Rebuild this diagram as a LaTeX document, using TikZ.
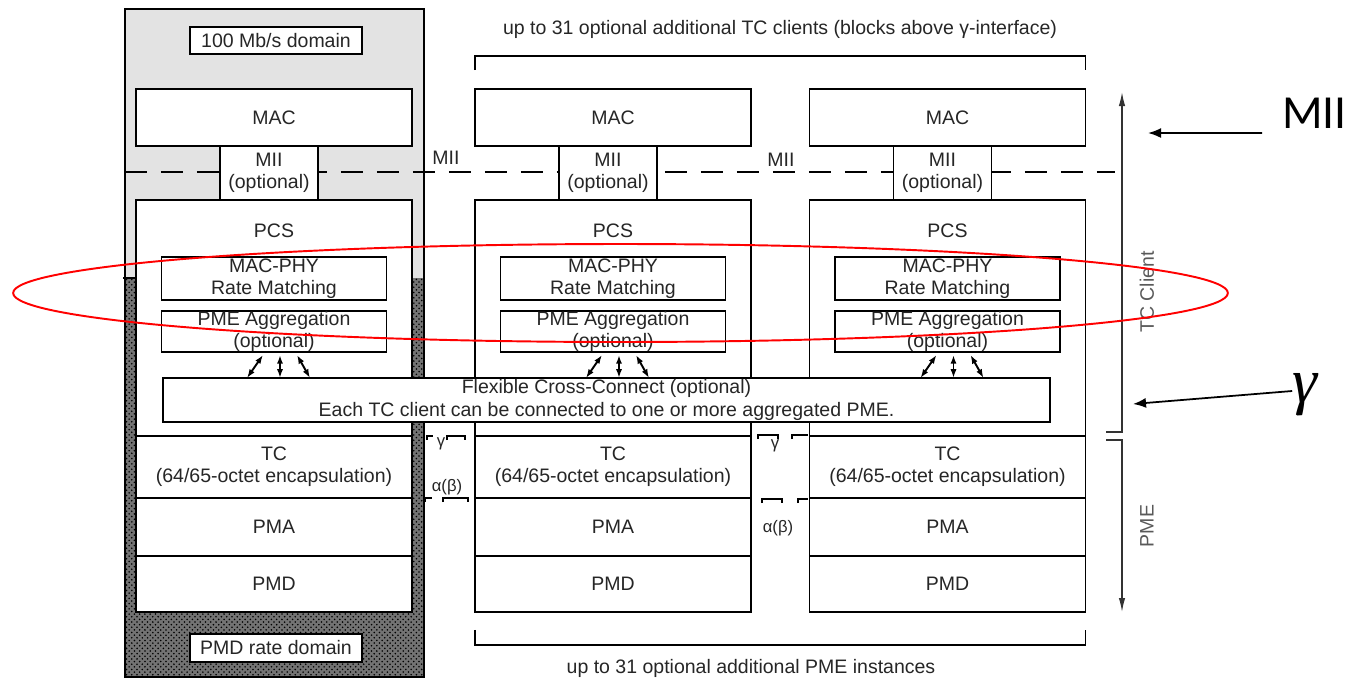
\documentclass[tikz,border=0pt]{standalone}
\usepackage{fontspec}
\setmainfont{Liberation Sans}
\newfontfamily\notefont{Carlito}
\newfontfamily\gamfont{Liberation Serif}
\usepackage{tikz}
\usetikzlibrary{positioning,arrows.meta,patterns}

\begin{document}
\begin{tikzpicture}[
    x=0.02cm, y=-0.02cm,
    font=\fontsize{11.1}{12.8}\selectfont,
    stackbox/.style={rectangle, draw, fill=white, line width=0.8pt, minimum width=5.52cm, inner sep=0pt, outer sep=0pt, align=center, text=black!85},
    innerbox/.style={stackbox, minimum width=4.5cm},
    xarrow/.style={{Latex[length=5pt,width=3.5pt]}-{Latex[length=5pt,width=3.5pt]}, line width=1.1pt},
    ifline/.style={line width=0.7pt},
    smalltxt/.style={font=\fontsize{9.5}{11}\selectfont, text=black!85, inner sep=1pt},
    notearrow/.style={-{Latex[length=0.26cm,width=0.2cm]}, line width=1pt},
    dimarrow/.style={-{Latex[length=0.28cm,width=0.13cm]}, line width=0.8pt, black!80}
]
\useasboundingbox (0,0) rectangle (1347,680);

% left column: 100 Mb/s domain and PMD rate domain
\fill[black!11] (125,9) rectangle (424,278);
\fill[black!55] (125,278) rectangle (424,677);
\fill[pattern=crosshatch dots, pattern color=black] (125,278) rectangle (424,677);
\draw[line width=0.8pt] (125,9) rectangle (424,677);
\draw[line width=0.8pt] (123,278) -- (136,278);

% MII interface line
\draw[line width=0.8pt, dash pattern=on 0.44cm off 0.28cm] (125,172) -- (1115,172);

\node[stackbox, minimum width=3.44cm, minimum height=0.54cm] (fastdom) at (276,40.5) {100 Mb/s domain};
\node[stackbox, minimum width=3.44cm, minimum height=0.56cm] (ratedom) at (276,648) {PMD rate domain};

% column 1
\node[stackbox, minimum height=1.14cm] (mac1) at (274,117.5) {MAC};
\node[stackbox, minimum width=1.96cm, minimum height=1.08cm, below=0pt of mac1, xshift=-0.1cm] (mii1) {MII\\(optional)};
\node[stackbox, minimum height=4.72cm, below=0pt of mii1, xshift=0.1cm] (pcs1) {};
\node[text=black!85] (pcsl1) at ([yshift=-0.62cm]pcs1.north) {PCS};
\node[innerbox, minimum height=0.86cm, below=1.14cm of pcs1.north] (mph1) {MAC-PHY\\Rate Matching};
\node[innerbox, minimum height=0.82cm, below=0.22cm of mph1] (pme1) {PME Aggregation\\(optional)};
\node[stackbox, minimum height=1.24cm, below=0pt of pcs1] (tc1) {TC\\(64/65-octet encapsulation)};
\node[stackbox, minimum height=1.16cm, below=0pt of tc1] (pma1) {PMA};
\node[stackbox, minimum height=1.12cm, below=0pt of pma1] (pmd1) {PMD};

% column 2
\node[stackbox, minimum height=1.14cm] (mac2) at (613,117.5) {MAC};
\node[stackbox, minimum width=1.96cm, minimum height=1.08cm, below=0pt of mac2, xshift=-0.1cm] (mii2) {MII\\(optional)};
\node[stackbox, minimum height=4.72cm, below=0pt of mii2, xshift=0.1cm] (pcs2) {};
\node[text=black!85] (pcsl2) at ([yshift=-0.62cm]pcs2.north) {PCS};
\node[innerbox, minimum height=0.86cm, below=1.14cm of pcs2.north] (mph2) {MAC-PHY\\Rate Matching};
\node[innerbox, minimum height=0.82cm, below=0.22cm of mph2] (pme2) {PME Aggregation\\(optional)};
\node[stackbox, minimum height=1.24cm, below=0pt of pcs2] (tc2) {TC\\(64/65-octet encapsulation)};
\node[stackbox, minimum height=1.16cm, below=0pt of tc2] (pma2) {PMA};
\node[stackbox, minimum height=1.12cm, below=0pt of pma2] (pmd2) {PMD};

% column 3
\node[stackbox, minimum height=1.14cm] (mac3) at (947.5,117.5) {MAC};
\node[stackbox, minimum width=1.96cm, minimum height=1.08cm, below=0pt of mac3, xshift=-0.1cm] (mii3) {MII\\(optional)};
\node[stackbox, minimum height=4.72cm, below=0pt of mii3, xshift=0.1cm] (pcs3) {};
\node[text=black!85] (pcsl3) at ([yshift=-0.62cm]pcs3.north) {PCS};
\node[innerbox, minimum height=0.86cm, below=1.14cm of pcs3.north] (mph3) {MAC-PHY\\Rate Matching};
\node[innerbox, minimum height=0.82cm, below=0.22cm of mph3] (pme3) {PME Aggregation\\(optional)};
\node[stackbox, minimum height=1.24cm, below=0pt of pcs3] (tc3) {TC\\(64/65-octet encapsulation)};
\node[stackbox, minimum height=1.16cm, below=0pt of tc3] (pma3) {PMA};
\node[stackbox, minimum height=1.12cm, below=0pt of pma3] (pmd3) {PMD};

% cross-connect
\node[stackbox, minimum width=17.74cm, minimum height=0.88cm] (flx) at (606.5,400) {Flexible Cross-Connect (optional)\\Each TC client can be connected to one or more aggregated PME.};

\draw[xarrow] ([shift={(-0.22cm,-0.06cm)}]pme1.south) -- ([xshift=-0.54cm]pme1.south |- flx.north);
\draw[xarrow] ([shift={(0.12cm,-0.06cm)}]pme1.south) -- ([xshift=0.12cm]pme1.south |- flx.north);
\draw[xarrow] ([shift={(0.46cm,-0.06cm)}]pme1.south) -- ([xshift=0.72cm]pme1.south |- flx.north);
\draw[xarrow] ([shift={(-0.22cm,-0.06cm)}]pme2.south) -- ([xshift=-0.54cm]pme2.south |- flx.north);
\draw[xarrow] ([shift={(0.12cm,-0.06cm)}]pme2.south) -- ([xshift=0.12cm]pme2.south |- flx.north);
\draw[xarrow] ([shift={(0.46cm,-0.06cm)}]pme2.south) -- ([xshift=0.72cm]pme2.south |- flx.north);
\draw[xarrow] ([shift={(-0.22cm,-0.06cm)}]pme3.south) -- ([xshift=-0.54cm]pme3.south |- flx.north);
\draw[xarrow] ([shift={(0.12cm,-0.06cm)}]pme3.south) -- ([xshift=0.12cm]pme3.south |- flx.north);
\draw[xarrow] ([shift={(0.46cm,-0.06cm)}]pme3.south) -- ([xshift=0.72cm]pme3.south |- flx.north);

% gamma and alpha(beta) interfaces
\draw[ifline] (427,440) -- (427,436) -- (433,436);
\draw[ifline] (447,440) -- (447,436) -- (465,436) -- (465,440);
\draw[ifline] (425,502) -- (425,498) -- (432,498);
\draw[ifline] (443,502) -- (443,498) -- (468,498) -- (468,502);
\draw[ifline] (758,439) -- (758,435) -- (778,435) -- (778,439);
\draw[ifline] (792,439) -- (792,435) -- (808,435);
\draw[ifline] (762,503) -- (762,499) -- (782,499) -- (782,503);
\draw[ifline] (798,503) -- (798,499) -- (808,499);
\node[smalltxt] (g12) at (441,444) {γ};
\node[smalltxt] (ab12) at (447,487) {α(β)};
\node[smalltxt] (g23) at (775,446) {γ};
\node[smalltxt] (ab23) at (778,528) {α(β)};
\node[text=black!85] (mii12) at (446,158) {MII};
\node[text=black!85] (mii23) at (781,160) {MII};

% brackets
\node[text=black!85] (topnote) at (780,29) {up to 31 optional additional TC clients (blocks above γ-interface)};
\draw[line width=0.8pt] ([yshift=0.38cm]mac2.north west) |- ([yshift=0.66cm]mac3.north east) -- ([yshift=0.38cm]mac3.north east);
\draw[line width=0.8pt] ([yshift=-0.36cm]pmd2.south west) |- ([yshift=-0.66cm]pmd3.south east) -- ([yshift=-0.36cm]pmd3.south east);
\node[text=black!85] (botnote) at (751,668) {up to 31 optional additional PME instances};

% TC client / PME extent
\coordinate (clTop) at (1122,92);
\coordinate (clEnd) at (1122,432);
\coordinate (pmeTop) at (1122,440);
\coordinate (pmeBot) at (1122,612);
\draw[dimarrow] ([xshift=-0.32cm]clEnd) -- (clEnd) -- (clTop);
\draw[dimarrow] ([xshift=-0.32cm]pmeTop) -- (pmeTop) -- (pmeBot);
\node[rotate=90, text=black!65] (tclbl) at (1147,292) {TC Client};
\node[rotate=90, text=black!65] (pmelbl) at (1147,526) {PME};

% annotations
\node[font=\notefont\fontsize{27}{27}\selectfont, anchor=base west, inner sep=0pt] (bigmii) at (1282,128) {MII};
\coordinate (miiTip) at (1148,133);
\draw[notearrow] ([shift={(-0.4cm,-0.1cm)}]bigmii.base west) -- (miiTip);
\node[font=\gamfont\itshape\fontsize{36}{36}\selectfont, inner sep=0pt] (bigg) at (1305,395) {γ};
\coordinate (gTip) at (1133,404);
\draw[notearrow] ([yshift=0.08cm]bigg.west) -- (gTip);

\draw[red, line width=1.1pt] (620.5,293) ellipse [x radius=12.15cm, y radius=0.98cm];
\end{tikzpicture}
\end{document}
